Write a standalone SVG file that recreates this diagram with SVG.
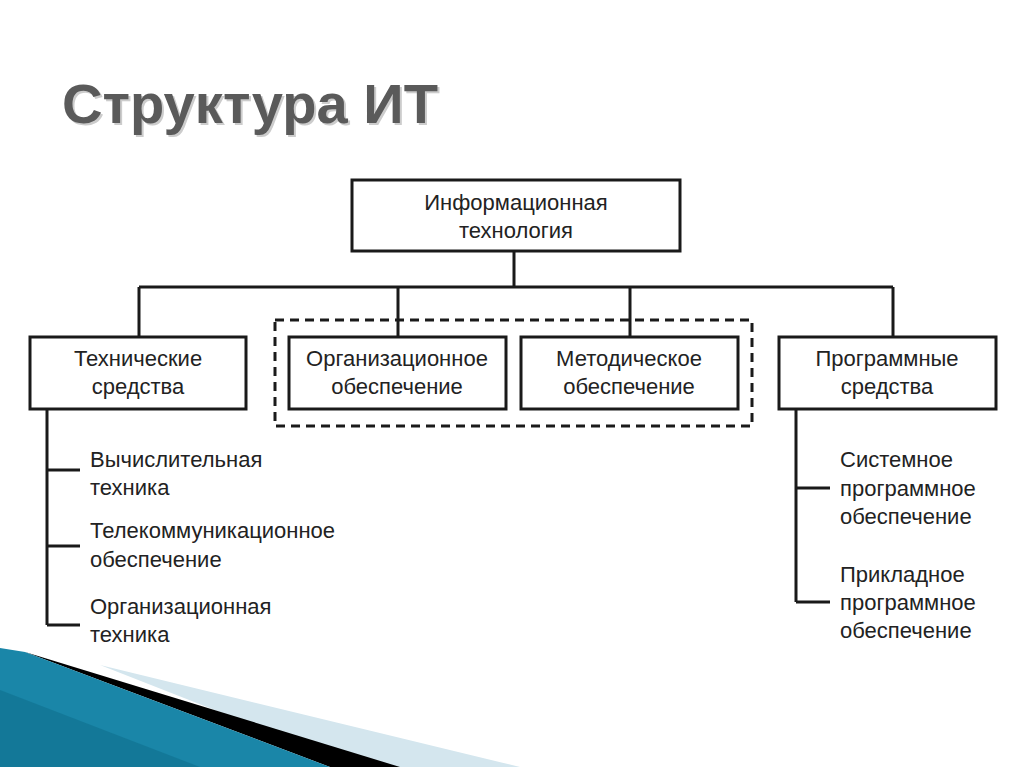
<svg xmlns="http://www.w3.org/2000/svg" width="1024" height="767" viewBox="0 0 1024 767">
<style>
.b{fill:#fff;stroke:#1a1a1a;stroke-width:3}
.l{fill:none;stroke:#1a1a1a;stroke-width:3}
.t{font-family:"Liberation Sans",Arial,sans-serif;font-size:22px;fill:#222}
.c{text-anchor:middle}
</style>
<rect width="1024" height="767" fill="#fff"/>
<g id="decor">
<polygon points="100,665 520,767 360,767" fill="#d4e6ee"/>
<polygon points="25,652 400,767 330,767" fill="#000"/>
<polygon points="0,648 25,652 330,767 0,767" fill="#1a86a8"/>
<polygon points="0,690 200,767 0,767" fill="#0f6f8e" opacity="0.6"/>
</g>
<text x="64" y="125" font-family="Liberation Sans,Arial,sans-serif" font-weight="bold" font-size="56" fill="#ccc" textLength="376" lengthAdjust="spacingAndGlyphs">Структура ИТ</text>
<text x="62" y="123" font-family="Liberation Sans,Arial,sans-serif" font-weight="bold" font-size="56" fill="#5a5a5a" textLength="376" lengthAdjust="spacingAndGlyphs">Структура ИТ</text>
<g id="connectors">
<path class="l" d="M514,251V287M139,287H893M139,287V337M398,287V337M630,287V337M893,287V337"/>
<path class="l" d="M47,409V625M47,470H80M47,546H80M47,625H80"/>
<path class="l" d="M796,409V602M796,488H830M796,602H830"/>
<rect x="275" y="320" width="477" height="106" fill="none" stroke="#1a1a1a" stroke-width="3" stroke-dasharray="9,6"/>
</g>
<g id="n-top"><rect class="b" x="352" y="180" width="328" height="71"/>
<text class="t c" x="516" y="210">Информационная</text><text class="t c" x="516" y="238">технология</text></g>
<g id="n-tech"><rect class="b" x="30" y="337" width="216" height="72"/>
<text class="t c" x="138" y="366">Технические</text><text class="t c" x="138" y="394">средства</text></g>
<g id="n-org"><rect class="b" x="289" y="337" width="217" height="72"/>
<text class="t c" x="397" y="366">Организационное</text><text class="t c" x="397" y="394">обеспечение</text></g>
<g id="n-met"><rect class="b" x="521" y="337" width="217" height="72"/>
<text class="t c" x="629" y="366">Методическое</text><text class="t c" x="629" y="394">обеспечение</text></g>
<g id="n-prog"><rect class="b" x="779" y="337" width="217" height="72"/>
<text class="t c" x="887" y="366">Программные</text><text class="t c" x="887" y="394">средства</text></g>
<g id="left-items">
<text class="t" x="90" y="467">Вычислительная</text><text class="t" x="90" y="495">техника</text>
<text class="t" x="90" y="538">Телекоммуникационное</text><text class="t" x="90" y="567">обеспечение</text>
<text class="t" x="90" y="614">Организационная</text><text class="t" x="90" y="642">техника</text>
</g>
<g id="right-items">
<text class="t" x="840" y="467">Системное</text><text class="t" x="840" y="496">программное</text><text class="t" x="840" y="524">обеспечение</text>
<text class="t" x="840" y="582">Прикладное</text><text class="t" x="840" y="610">программное</text><text class="t" x="840" y="638">обеспечение</text>
</g>
</svg>
